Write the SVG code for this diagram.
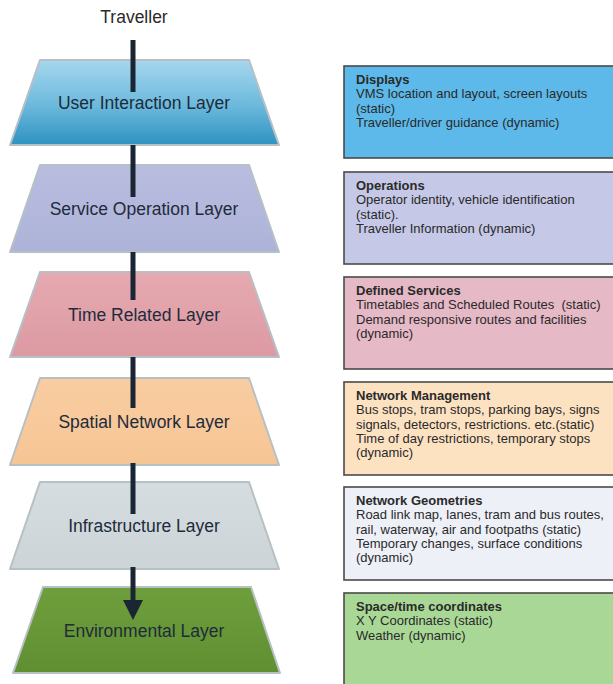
<svg xmlns="http://www.w3.org/2000/svg" width="613" height="684" viewBox="0 0 613 684">
<defs>
<style>
.layer{stroke:#b7c0c4;stroke-width:2;stroke-linejoin:round}
.ltxt{font-family:"Liberation Sans",Arial,sans-serif;font-size:17.5px;fill:#1e2b3a;text-anchor:middle}
.box{stroke:#4a4a4a;stroke-width:1.6}
.btxt{font-family:"Liberation Sans",Arial,sans-serif;font-size:13px;fill:#2a2a2a}
.bt{font-weight:bold}
.conn{stroke:#1a2633;stroke-width:5;fill:none}
</style>
<linearGradient id="g1" x1="0" y1="0" x2="0" y2="1">
<stop offset="0" stop-color="#a6d7ee"/><stop offset="0.55" stop-color="#6ab8dc"/><stop offset="1" stop-color="#2e92c0"/>
</linearGradient>
<linearGradient id="g2" x1="0" y1="0" x2="0" y2="1">
<stop offset="0" stop-color="#b9bde0"/><stop offset="1" stop-color="#adb3d8"/>
</linearGradient>
<linearGradient id="g3" x1="0" y1="0" x2="0" y2="1">
<stop offset="0" stop-color="#e6a9b0"/><stop offset="1" stop-color="#dc9aa3"/>
</linearGradient>
<linearGradient id="g4" x1="0" y1="0" x2="0" y2="1">
<stop offset="0" stop-color="#f9cda2"/><stop offset="1" stop-color="#f6c594"/>
</linearGradient>
<linearGradient id="g5" x1="0" y1="0" x2="0" y2="1">
<stop offset="0" stop-color="#d6dde0"/><stop offset="1" stop-color="#ccd4d7"/>
</linearGradient>
<linearGradient id="g6" x1="0" y1="0" x2="0" y2="1">
<stop offset="0" stop-color="#6f9f3c"/><stop offset="1" stop-color="#5f8f32"/>
</linearGradient>
</defs>
<rect width="613" height="684" fill="#ffffff"/>

<text x="134" y="23" class="ltxt" style="fill:#2a2a2a">Traveller</text>

<g id="layer-user-interaction">
<polygon class="layer" points="40,60 249,60 279,145 10,145" fill="url(#g1)"/>
<text x="144" y="109" class="ltxt">User Interaction Layer</text>
</g>
<g id="layer-service-operation">
<polygon class="layer" points="40,165 249,165 279,252 10,252" fill="url(#g2)"/>
<text x="144" y="215" class="ltxt">Service Operation Layer</text>
</g>
<g id="layer-time-related">
<polygon class="layer" points="40,272 249,272 279,357 10,357" fill="url(#g3)"/>
<text x="144" y="321" class="ltxt">Time Related Layer</text>
</g>
<g id="layer-spatial-network">
<polygon class="layer" points="40,378 249,378 279,465 10,465" fill="url(#g4)"/>
<text x="144" y="428" class="ltxt">Spatial Network Layer</text>
</g>
<g id="layer-infrastructure">
<polygon class="layer" points="40,482 249,482 279,569 10,569" fill="url(#g5)"/>
<text x="144" y="532" class="ltxt">Infrastructure Layer</text>
</g>
<g id="layer-environmental">
<polygon class="layer" points="43,587 251,587 280,673 13,673" fill="url(#g6)"/>
<text x="144" y="637" class="ltxt">Environmental Layer</text>
</g>

<g id="connectors">
<line class="conn" x1="133" y1="40" x2="133" y2="92"/>
<line class="conn" x1="133" y1="145" x2="133" y2="197"/>
<line class="conn" x1="133" y1="252" x2="133" y2="300"/>
<line class="conn" x1="133" y1="357" x2="133" y2="408"/>
<line class="conn" x1="133" y1="463" x2="133" y2="514"/>
<line class="conn" x1="133" y1="567" x2="133" y2="601"/>
<path d="M123,600 L143,600 L133,620 z" fill="#1a2633"/>
</g>

<g id="box-displays">
<rect class="box" x="344" y="66" width="280" height="92" fill="#5db9e9"/>
<text class="btxt" x="356" y="84"><tspan class="bt">Displays</tspan><tspan x="356" dy="14.3">VMS location and layout, screen layouts</tspan><tspan x="356" dy="14.3">(static)</tspan><tspan x="356" dy="14.3">Traveller/driver guidance (dynamic)</tspan></text>
</g>
<g id="box-operations">
<rect class="box" x="344" y="172" width="280" height="92" fill="#c5c8e6"/>
<text class="btxt" x="356" y="190"><tspan class="bt">Operations</tspan><tspan x="356" dy="14.3">Operator identity, vehicle identification</tspan><tspan x="356" dy="14.3">(static).</tspan><tspan x="356" dy="14.3">Traveller Information (dynamic)</tspan></text>
</g>
<g id="box-defined-services">
<rect class="box" x="344" y="277" width="280" height="92" fill="#e6b9c6"/>
<text class="btxt" x="356" y="295"><tspan class="bt">Defined Services</tspan><tspan x="356" dy="14.3" xml:space="preserve">Timetables and Scheduled Routes  (static)</tspan><tspan x="356" dy="14.3">Demand responsive routes and facilities</tspan><tspan x="356" dy="14.3">(dynamic)</tspan></text>
</g>
<g id="box-network-management">
<rect class="box" x="344" y="382" width="280" height="93" fill="#fde2c2"/>
<text class="btxt" x="356" y="400"><tspan class="bt">Network Management</tspan><tspan x="356" dy="14.3">Bus stops, tram stops, parking bays, signs</tspan><tspan x="356" dy="14.3">signals, detectors, restrictions. etc.(static)</tspan><tspan x="356" dy="14.3">Time of day restrictions, temporary stops</tspan><tspan x="356" dy="14.3">(dynamic)</tspan></text>
</g>
<g id="box-network-geometries">
<rect class="box" x="344" y="487" width="280" height="93" fill="#eef0f7"/>
<text class="btxt" x="356" y="505"><tspan class="bt">Network Geometries</tspan><tspan x="356" dy="14.3">Road link map, lanes, tram and bus routes,</tspan><tspan x="356" dy="14.3">rail, waterway, air and footpaths (static)</tspan><tspan x="356" dy="14.3">Temporary changes, surface conditions</tspan><tspan x="356" dy="14.3">(dynamic)</tspan></text>
</g>
<g id="box-space-time">
<rect class="box" x="344" y="593" width="280" height="100" fill="#a9d896"/>
<text class="btxt" x="356" y="611"><tspan class="bt">Space/time coordinates</tspan><tspan x="356" dy="14.3">X Y Coordinates (static)</tspan><tspan x="356" dy="14.3">Weather (dynamic)</tspan></text>
</g>
</svg>
